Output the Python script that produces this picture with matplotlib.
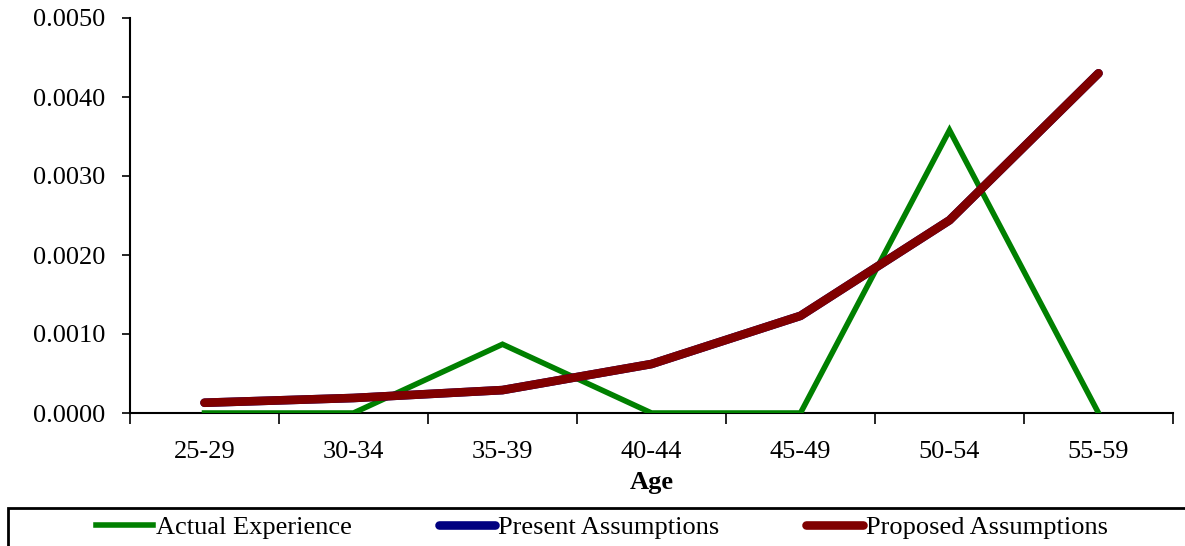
import matplotlib
matplotlib.use("Agg")
import matplotlib.pyplot as plt
from matplotlib.patches import Rectangle

# ---------------------------------------------------------
# Data
# ---------------------------------------------------------
ages = ["25-29", "30-34", "35-39", "40-44", "45-49", "50-54", "55-59"]
actual = [0.0, 0.0, 0.00087, 0.0, 0.0, 0.00358, 0.0]
present = [0.00013, 0.00019, 0.00029, 0.00062, 0.00123, 0.00244, 0.0043]
proposed = [0.00013, 0.00019, 0.00029, 0.00062, 0.00123, 0.00244, 0.0043]
yticks = [0.0, 0.001, 0.002, 0.003, 0.004, 0.005]

plt.rcParams["font.family"] = ["Liberation Serif", "DejaVu Serif"]

fig = plt.figure(figsize=(11.85, 5.46), dpi=100)
ax = fig.add_axes([130 / 1185, 1 - 413 / 546, (1173 - 130) / 1185, (413 - 18) / 546])

x = list(range(len(ages)))
ax.plot(x, actual, color="#008000", lw=4.0, solid_joinstyle="miter", label="Actual Experience")
ax.plot(x, present, color="#000080", lw=6.2, solid_capstyle="round", label="Present Assumptions")
ax.plot(x, proposed, color="#800000", lw=6.2, solid_capstyle="round", label="Proposed Assumptions")

ax.set_xlim(-0.5, len(ages) - 0.5)
ax.set_ylim(0, 0.005)
ax.set_yticks(yticks)
ax.set_yticklabels([f"{v:.4f}" for v in yticks])
ax.set_xticks([i - 0.5 for i in range(len(ages) + 1)])
ax.set_xticklabels([])
ax.set_xticks(x, minor=True)
ax.set_xticklabels(ages, minor=True)
ax.tick_params(axis="x", which="major", direction="out", length=8, width=1.2)
ax.tick_params(axis="x", which="minor", length=0, pad=20, labelsize=19)
ax.tick_params(axis="y", direction="out", length=6, width=1.2, labelsize=19, pad=12)

for s in ["top", "right"]:
    ax.spines[s].set_visible(False)
for s in ["left", "bottom"]:
    ax.spines[s].set_linewidth(1.5)
ax.spines["bottom"].set_zorder(1)

ax.set_xlabel("Age", fontsize=19, fontweight="bold", labelpad=6)

# legend at bottom in a box
fig.patches.append(Rectangle((8 / 1185, -0.02), 1.05, (546 - 508) / 546 + 0.02,
                             transform=fig.transFigure, fill=False,
                             edgecolor="black", lw=2))
handles, labels = ax.get_legend_handles_labels()
fig.legend(handles, labels, loc="center", bbox_to_anchor=(602 / 1185, 1 - 527 / 546),
           ncol=3, frameon=False, fontsize=19, handlelength=2.15,
           handletextpad=0.1, columnspacing=3.3, borderpad=0)

fig.savefig("out.png", dpi=100)
